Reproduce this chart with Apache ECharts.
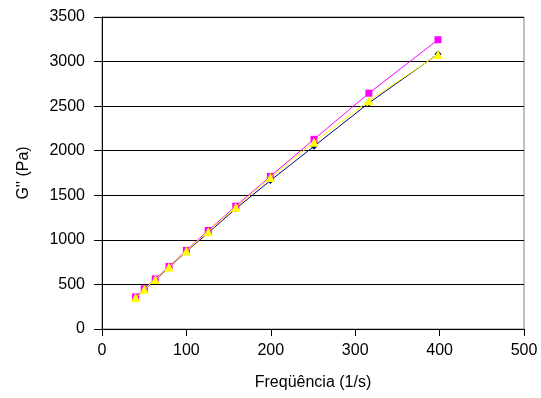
<!DOCTYPE html>
<html>
<head>
<meta charset="utf-8">
<script src="https://cdn.jsdelivr.net/npm/echarts@6/dist/echarts.min.js"></script>
<style>html,body{margin:0;padding:0;background:#fff}#c{width:541px;height:398px}</style>
</head>
<body>
<div id="c"></div>
<script>
const freq = [39.8, 50.1, 63.1, 79.4, 100, 125.9, 158.5, 199.5, 251.2, 316.2, 398.1];
const seriesNavy = [350, 440, 550, 690, 870, 1080, 1350, 1665, 2050, 2535, 3085];
const seriesMagenta = [360, 452, 562, 702, 882, 1105, 1378, 1712, 2128, 2645, 3245];
const seriesYellow = [352, 446, 556, 695, 876, 1092, 1365, 1700, 2095, 2560, 3080];
const xTicks = [0, 100, 200, 300, 400, 500];
const yTicks = [0, 500, 1000, 1500, 2000, 2500, 3000, 3500];
const xName = 'Freqüência (1/s)';
const yName = "G'' (Pa)";

const pairs = ys => freq.map((x, i) => [x, ys[i]]);
const font = 'Liberation Sans, Arial, sans-serif';
const chart = echarts.init(document.getElementById('c'), null, {renderer: 'canvas'});
chart.setOption({
  animation: false,
  backgroundColor: '#fff',
  grid: {left: 102, right: 17, top: 17, bottom: 69, show: true, borderColor: '#808080', borderWidth: 1, backgroundColor: 'transparent'},
  xAxis: {
    type: 'value', min: xTicks[0], max: xTicks[xTicks.length - 1], interval: 100,
    name: xName, nameLocation: 'middle', nameGap: 46,
    nameTextStyle: {fontFamily: font, fontSize: 16, color: '#000'},
    axisLine: {show: true, onZero: false, lineStyle: {color: '#000', width: 1}},
    axisTick: {show: true, inside: false, length: 7, lineStyle: {color: '#000'}},
    axisLabel: {fontFamily: font, fontSize: 16, color: '#000', margin: 14, formatter: v => String(v)},
    splitLine: {show: false}
  },
  yAxis: {
    type: 'value', min: yTicks[0], max: yTicks[yTicks.length - 1], interval: 500,
    name: yName, nameLocation: 'middle', nameGap: 70, nameRotate: 90,
    nameTextStyle: {fontFamily: font, fontSize: 16, color: '#000'},
    axisLine: {show: true, onZero: false, lineStyle: {color: '#000', width: 1}},
    axisTick: {show: true, inside: false, length: 8, lineStyle: {color: '#000'}},
    axisLabel: {fontFamily: font, fontSize: 16, color: '#000', margin: 17, formatter: v => String(v)},
    splitLine: {show: true, lineStyle: {color: '#000', width: 1}}
  },
  series: [
    {type: 'line', data: pairs(seriesNavy), symbol: 'diamond', symbolSize: 7,
     lineStyle: {color: '#000080', width: 1}, itemStyle: {color: '#000080'}, z: 2},
    {type: 'line', data: pairs(seriesMagenta), symbol: 'rect', symbolSize: 7,
     lineStyle: {color: '#FF00FF', width: 1}, itemStyle: {color: '#FF00FF'}, z: 3},
    {type: 'line', data: pairs(seriesYellow), symbol: 'triangle', symbolSize: 9,
     lineStyle: {color: '#FFFF00', width: 1}, itemStyle: {color: '#FFFF00'}, z: 4}
  ]
});
</script>
</body>
</html>
